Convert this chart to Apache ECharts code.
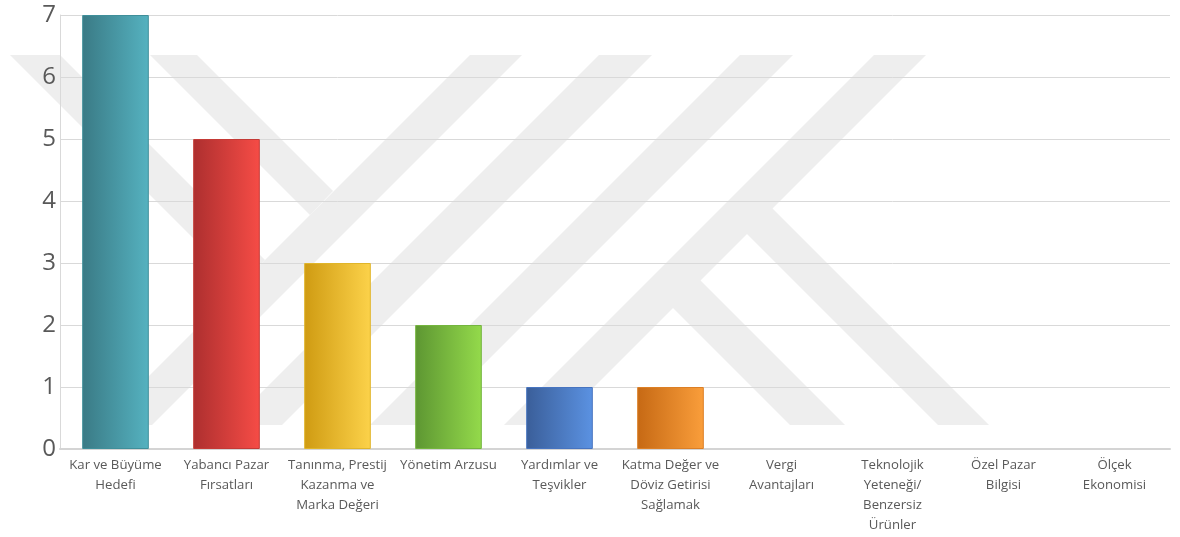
<!DOCTYPE html>
<html><head><meta charset="utf-8">
<script src="https://cdn.jsdelivr.net/npm/echarts@6/dist/echarts.min.js"></script>
<style>html,body{margin:0;padding:0;background:#fff}#c{width:1180px;height:537px}</style>
</head><body><div id="c"></div>
<script>
const categories = ["Kar ve Büyüme\nHedefi","Yabancı Pazar\nFırsatları","Tanınma, Prestij\nKazanma ve\nMarka Değeri","Yönetim Arzusu","Yardımlar ve\nTeşvikler","Katma Değer ve\nDöviz Getirisi\nSağlamak","Vergi\nAvantajları","Teknolojik\nYeteneği/\nBenzersiz\nÜrünler","Özel Pazar\nBilgisi","Ölçek\nEkonomisi"];
const values = [7,5,3,2,1,1,0,0,0,0];
const yTicks = [0,1,2,3,4,5,6,7];
const colorsFrom = ["#3a7a85","#ad2f2f","#cf9b12","#5d9632","#3a5e99","#c66914","#888","#888","#888","#888"];
const colorsTo   = ["#55b2c0","#f64c46","#fcd24a","#94da4b","#5b92e2","#fa9e3b","#888","#888","#888","#888"];
const borders    = ["#3f8f9a","#c43a36","#e0b52a","#74b53e","#4774c0","#dc7f25","#888","#888","#888","#888"];

// background watermark (decorative, not data)
const wm = [
  [[10,55],[60,55],[265,260],[240,285]],
  [[150,55],[197,55],[333,191],[310,215]],
  [[470,55],[522,55],[152,425],[100,425]],
  [[599,55],[652,55],[282,425],[229,425]],
  [[740,55],[793,55],[423,425],[370,425]],
  [[874,55],[926,55],[556,425],[504,425]],
  [[660,295],[688,268],[845,425],[790,425]],
  [[734,221],[760,196],[989,425],[938,425]]
];
const chart = echarts.init(document.getElementById('c'));
chart.setOption({
  animation:false,
  graphic: wm.map(p=>({type:'polygon',z:-10,silent:true,shape:{points:p},style:{fill:'#eeeeee'}})),
  grid:{left:60,right:10,top:15,bottom:88},
  xAxis:{type:'category',data:categories,
    axisLine:{lineStyle:{color:'#d4d4d4',width:2}},axisTick:{show:false},
    axisLabel:{interval:0,color:'#595959',fontFamily:'Open Sans',fontSize:13.2,lineHeight:20,margin:6}},
  yAxis:{type:'value',min:0,max:7,interval:1,
    axisLine:{show:true,lineStyle:{color:'#d9d9d9',width:1}},
    splitLine:{lineStyle:{color:'#d9d9d9'}},
    axisLabel:{color:'#595959',fontFamily:'Open Sans',fontSize:24,margin:4,formatter:v=>yTicks.includes(v)?String(v):''}},
  series:[{type:'bar',barCategoryGap:'40%',
    data:values.map((v,i)=>({value:v,itemStyle:{
      color:new echarts.graphic.LinearGradient(0,0,1,0,[{offset:0,color:colorsFrom[i]},{offset:1,color:colorsTo[i]}]),
      borderColor:borders[i],borderWidth:v>0?1:0}}))}]
});
</script></body></html>
